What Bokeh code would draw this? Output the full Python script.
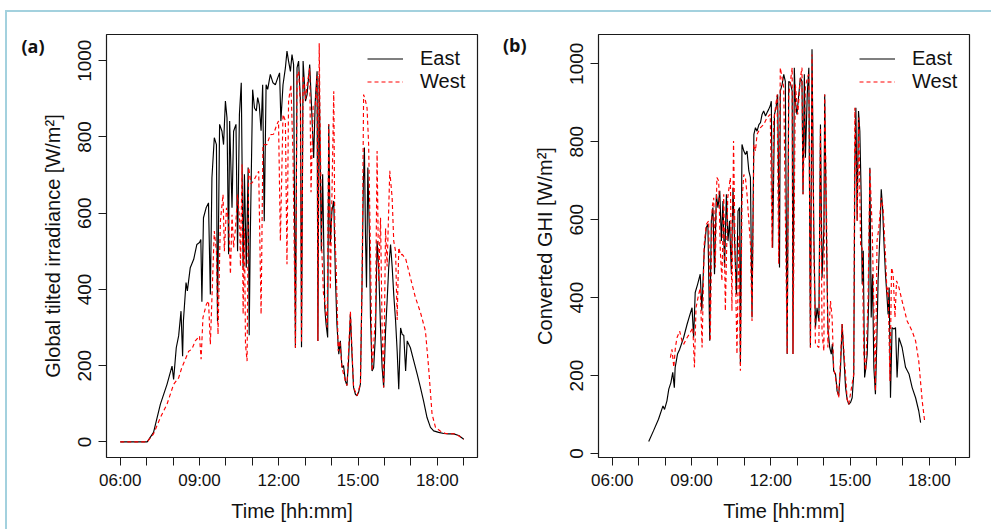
from bokeh.plotting import figure
from bokeh.layouts import row, column
from bokeh.models import (Range1d, FixedTicker, CustomJSTickFormatter, Legend,
                          LegendItem, Spacer, LinearAxis)
from bokeh.embed import file_html
from bokeh.resources import INLINE

# ---------------- data (time in decimal hours, value in W/m^2) ----------------
hour_ticks = [6, 7, 8, 9, 10, 11, 12, 13, 14, 15, 16, 17, 18, 19]
value_ticks = [0, 200, 400, 600, 800, 1000]

east_a = [(6.00,0),(7.02,0),(7.26,25),(7.52,99),(7.77,151),(7.96,199),(8.02,164),(8.12,247),
          (8.21,278),(8.30,343),(8.36,225),(8.39,317),(8.49,418),(8.54,396),(8.65,457),(8.78,479),
          (8.90,518),(9.00,523),(9.05,531),(9.09,368),(9.15,588),(9.25,614),(9.34,627),(9.41,387),
          (9.47,693),(9.56,798),(9.64,780),(9.68,317),(9.76,833),(9.85,815),(9.91,780),(9.98,894),
          (10.04,850),(10.10,492),(10.14,842),(10.23,614),(10.29,815),(10.38,833),(10.44,500),
          (10.51,859),(10.58,942),(10.65,457),(10.70,702),(10.77,457),(10.84,720),(10.88,280),
          (10.92,530),(11.01,924),(11.08,876),(11.15,868),(11.20,903),(11.26,885),(11.33,816),
          (11.39,937),(11.45,579),(11.52,937),(11.58,925),(11.68,964),(11.78,942),(11.87,937),
          (11.96,955),(12.03,968),(12.08,842),(12.16,937),(12.25,981),(12.31,1025),(12.37,999),
          (12.44,972),(12.50,1016),(12.56,990),(12.63,247),(12.69,981),(12.75,999),(12.82,894),
          (12.86,248),(12.92,999),(13.01,894),(13.07,911),(13.17,990),(13.23,894),(13.32,745),
          (13.38,894),(13.45,972),(13.48,265),(13.53,960),(13.61,500),(13.66,702),(13.74,352),
          (13.79,308),(13.85,274),(13.89,833),(13.95,518),(14.01,606),(14.08,632),(14.14,440),
          (14.20,308),(14.27,230),(14.33,265),(14.39,195),(14.45,200),(14.52,160),(14.58,148),
          (14.64,212),(14.71,335),(14.77,230),(14.83,143),(14.90,125),(14.96,121),(15.02,130),
          (15.09,152),(15.15,413),(15.20,675),(15.24,772),(15.28,544),(15.32,405),(15.37,720),
          (15.43,544),(15.47,327),(15.53,186),(15.59,195),(15.66,282),(15.72,527),(15.78,457),
          (15.85,299),(15.91,195),(15.97,143),(16.04,290),(16.10,370),(16.16,457),(16.23,518),
          (16.29,460),(16.35,387),(16.42,317),(16.48,238),(16.54,138),(16.61,299),(16.67,282),
          (16.73,280),(16.80,186),(16.86,265),(16.98,247),(17.11,212),(17.24,177),(17.36,143),
          (17.48,107),(17.61,64),(17.74,38),(17.86,29),(18.05,25),(18.24,22),(18.43,21),
          (18.62,21),(18.81,17),(19.00,7)]

west_a = [(6.00,0),(7.02,0),(7.26,21),(7.52,64),(7.77,99),(8.02,151),(8.21,168),(8.33,195),
          (8.46,216),(8.59,238),(8.71,243),(8.84,265),(9.00,278),(9.06,217),(9.13,326),(9.26,361),
          (9.34,370),(9.41,256),(9.51,457),(9.56,553),(9.64,500),(9.70,282),(9.79,579),(9.89,649),
          (9.94,500),(10.02,614),(10.10,579),(10.17,440),(10.23,596),(10.29,510),(10.36,560),
          (10.44,649),(10.52,580),(10.55,460),(10.61,728),(10.65,335),(10.70,560),(10.74,256),
          (10.80,212),(10.86,720),(10.95,677),(11.05,685),(11.17,702),(11.24,710),(11.33,335),
          (11.40,780),(11.49,780),(11.55,780),(11.68,806),(11.80,807),(11.93,833),(11.99,842),
          (12.06,527),(12.16,859),(12.25,842),(12.31,466),(12.37,894),(12.46,937),(12.54,750),
          (12.63,247),(12.69,960),(12.75,972),(12.82,880),(12.86,260),(12.92,960),(13.01,900),
          (13.08,940),(13.17,980),(13.22,655),(13.30,880),(13.38,880),(13.45,960),(13.48,265),
          (13.53,1046),(13.56,850),(13.63,500),(13.69,390),(13.76,360),(13.83,300),(13.89,833),
          (13.95,400),(14.08,920),(14.12,560),(14.18,440),(14.25,238),(14.31,265),(14.39,195),
          (14.52,160),(14.58,148),(14.71,343),(14.83,143),(14.96,121),(15.09,152),(15.15,413),
          (15.21,911),(15.28,895),(15.34,876),(15.40,780),(15.47,500),(15.53,186),(15.66,330),
          (15.72,763),(15.78,420),(15.85,588),(15.91,300),(15.97,143),(16.04,560),(16.10,460),
          (16.20,711),(16.29,640),(16.35,527),(16.42,500),(16.48,320),(16.54,510),(16.61,490),
          (16.67,492),(16.80,481),(16.98,431),(17.17,379),(17.36,340),(17.55,291),(17.67,195),
          (17.80,73),(17.93,38),(18.12,28),(18.31,22),(18.69,21),(19.00,7)]

east_b = [(7.38,31),(7.56,58),(7.75,88),(7.92,122),(7.98,113),(8.07,135),(8.14,165),(8.22,182),
          (8.29,208),(8.35,169),(8.38,220),(8.47,255),(8.55,267),(8.70,297),(8.83,331),(8.92,352),
          (9.02,374),(9.08,297),(9.14,413),(9.23,434),(9.33,460),(9.39,366),(9.48,520),(9.56,580),
          (9.62,588),(9.69,289),(9.75,597),(9.81,631),(9.87,460),(9.94,665),(10.00,631),(10.07,674),
          (10.13,545),(10.19,648),(10.25,477),(10.32,665),(10.38,545),(10.44,597),(10.51,460),
          (10.57,682),(10.63,545),(10.70,408),(10.76,622),(10.82,631),(10.85,229),(10.91,793),
          (10.98,776),(11.04,767),(11.10,776),(11.17,725),(11.23,708),(11.29,349),(11.36,819),
          (11.42,836),(11.48,827),(11.55,844),(11.61,849),(11.67,870),(11.73,879),(11.80,866),
          (11.86,875),(11.92,883),(11.98,892),(12.02,904),(12.07,528),(12.14,870),(12.20,887),
          (12.26,921),(12.33,477),(12.36,930),(12.43,947),(12.49,973),(12.55,955),(12.62,255),
          (12.68,955),(12.74,951),(12.81,930),(12.84,255),(12.89,990),(12.93,904),(12.99,870),
          (13.06,921),(13.12,964),(13.18,955),(13.22,665),(13.27,973),(13.31,759),(13.38,921),
          (13.44,990),(13.50,272),(13.56,1037),(13.63,562),(13.69,323),(13.75,374),(13.82,340),
          (13.88,844),(13.94,451),(14.01,579),(14.04,921),(14.11,545),(14.16,323),(14.23,272),
          (14.29,255),(14.33,281),(14.38,212),(14.45,204),(14.51,160),(14.57,148),(14.64,221),
          (14.70,332),(14.76,255),(14.83,169),(14.89,139),(14.95,126),(15.02,131),(15.08,143),
          (15.14,204),(15.18,733),(15.22,887),(15.27,597),(15.32,879),(15.37,827),(15.42,665),
          (15.46,434),(15.50,520),(15.55,195),(15.60,221),(15.65,255),(15.71,408),(15.75,733),
          (15.80,349),(15.85,460),(15.90,221),(15.96,152),(16.02,306),(16.06,443),(16.13,562),
          (16.18,678),(16.23,631),(16.28,545),(16.34,460),(16.40,400),(16.44,357),(16.48,426),
          (16.53,143),(16.59,323),(16.66,319),(16.72,323),(16.78,195),(16.85,297),(16.97,272),
          (17.10,221),(17.23,204),(17.35,169),(17.48,143),(17.60,109),(17.67,79)]

west_b = [(8.20,246),(8.26,267),(8.33,221),(8.39,272),(8.45,297),(8.55,314),(8.64,289),(8.70,280),
          (8.83,297),(8.95,310),(9.05,323),(9.11,221),(9.17,374),(9.27,408),(9.33,425),(9.40,272),
          (9.48,537),(9.56,588),(9.65,597),(9.71,289),(9.78,631),(9.84,656),(9.90,477),(9.96,708),
          (10.03,699),(10.09,520),(10.15,443),(10.22,665),(10.28,366),(10.37,656),(10.47,708),
          (10.53,366),(10.59,802),(10.66,477),(10.72,255),(10.79,562),(10.85,212),(10.91,648),
          (10.98,716),(11.04,708),(11.10,665),(11.23,537),(11.29,340),(11.36,793),(11.42,776),
          (11.48,819),(11.61,836),(11.73,844),(11.86,862),(11.98,870),(12.05,528),(12.11,853),
          (12.24,921),(12.30,486),(12.36,990),(12.49,939),(12.62,255),(12.68,921),(12.81,990),
          (12.84,255),(12.93,947),(13.02,870),(13.12,964),(13.18,990),(13.22,665),(13.31,939),
          (13.38,964),(13.44,973),(13.50,272),(13.56,1024),(13.63,520),(13.69,281),(13.82,272),
          (13.88,836),(13.94,306),(14.01,263),(14.04,921),(14.11,622),(14.16,272),(14.26,391),
          (14.32,349),(14.38,221),(14.51,169),(14.57,143),(14.70,332),(14.89,139),(14.95,126),
          (15.14,204),(15.18,887),(15.27,597),(15.33,862),(15.40,528),(15.46,528),(15.52,255),
          (15.59,212),(15.68,391),(15.75,733),(15.84,571),(15.90,374),(15.96,160),(16.02,545),
          (16.09,579),(16.18,656),(16.25,631),(16.30,562),(16.35,494),(16.40,408),(16.44,426),
          (16.51,186),(16.57,477),(16.63,460),(16.70,349),(16.76,443),(16.85,426),(16.97,391),
          (17.16,340),(17.35,314),(17.48,289),(17.60,237),(17.73,135),(17.83,79)]

# ---------------- styling ----------------
FONT = "Liberation Sans"
BORDER = "#a3d1de"


def panel(east, west, ylabel, tag, yrange, left_border, right_border, tag_y, tag_standoff):
    p = figure(frame_width=371, frame_height=423,
               min_border_left=left_border, min_border_right=right_border,
               min_border_top=22, min_border_bottom=72,
               x_range=Range1d(5.48, 19.52), y_range=Range1d(*yrange),
               output_backend="svg", toolbar_location=None)
    p.background_fill_color = "white"
    p.border_fill_color = "white"
    p.xgrid.visible = False
    p.ygrid.visible = False
    p.outline_line_color = "#1a1a1a"
    p.outline_line_width = 1.2

    for ax in (p.xaxis[0], p.yaxis[0]):
        ax.axis_line_color = None
        ax.major_tick_in = 0
        ax.major_tick_out = 8
        ax.major_tick_line_color = "#1a1a1a"
        ax.major_tick_line_width = 1
        ax.minor_tick_line_color = None
        ax.major_label_text_font = FONT
        ax.major_label_text_color = "#111111"
        ax.axis_label_text_font = FONT
        ax.axis_label_text_font_style = "normal"
        ax.axis_label_text_font_size = "20px"
        ax.axis_label_text_color = "#111111"

    xa = p.xaxis[0]
    xa.ticker = FixedTicker(ticks=hour_ticks)
    xa.formatter = CustomJSTickFormatter(code="""
        const h = Math.round(tick);
        if (h % 3 != 0) { return ""; }
        return (h < 10 ? "0" : "") + h + ":00";
    """)
    xa.major_label_text_font_size = "17px"
    xa.major_label_standoff = 5
    xa.axis_label = "Time [hh:mm]"
    xa.axis_label_standoff = 7

    ya = p.yaxis[0]
    ya.ticker = FixedTicker(ticks=value_ticks)
    ya.major_label_orientation = "vertical"
    ya.major_label_text_font_size = "19px"
    ya.major_label_standoff = 7
    ya.axis_label = ylabel
    ya.axis_label_standoff = 12

    # panel tag "(a)" / "(b)": a bare outer left axis with a single labelled tick
    tag_axis = LinearAxis(ticker=FixedTicker(ticks=[tag_y]),
                          formatter=CustomJSTickFormatter(code='return "%s";' % tag),
                          axis_line_color=None, major_tick_line_color=None,
                          minor_tick_line_color=None, major_tick_in=0, major_tick_out=0,
                          major_label_standoff=tag_standoff,
                          major_label_orientation="horizontal",
                          major_label_text_font="Open Sans",
                          major_label_text_font_style="bold",
                          major_label_text_font_size="18px",
                          major_label_text_color="#111111")
    p.add_layout(tag_axis, "left")

    et = [t for t, v in east]
    ev = [v for t, v in east]
    wt = [t for t, v in west]
    wv = [v for t, v in west]
    r1 = p.line(et, ev, line_color="black", line_width=1.15)
    r2 = p.line(wt, wv, line_color="#ff0000", line_width=1.15, line_dash="4 3")

    legend = Legend(items=[LegendItem(label="East", renderers=[r1]),
                           LegendItem(label="West", renderers=[r2])],
                    location=(261, 364), orientation="vertical",
                    glyph_width=36, glyph_height=23, label_height=23,
                    label_standoff=17, spacing=0, padding=0, margin=0,
                    label_text_font=FONT, label_text_font_size="20px",
                    label_text_color="#111111",
                    border_line_color=None, background_fill_alpha=0)
    p.add_layout(legend)
    return p


pa = panel(east_a, west_a, "Global tilted irradiance [W/m²]", "(a)",
           (-40.9, 1068.7), 99, 19, 1039.8, -6)
pb = panel(east_b, west_b, "Converted GHI [W/m²]", "(b)",
           (-10.3, 1075.1), 102, 22, 1046.9, 4)

layout = row(
    Spacer(width=5, height=529),
    column(
        Spacer(width=986, height=10),
        Spacer(width=986, height=2, styles={"background-color": BORDER}),
        row(Spacer(width=2, height=517, styles={"background-color": BORDER}), pa, pb),
    ),
)

open("out.html", "w").write(file_html(layout, INLINE))
